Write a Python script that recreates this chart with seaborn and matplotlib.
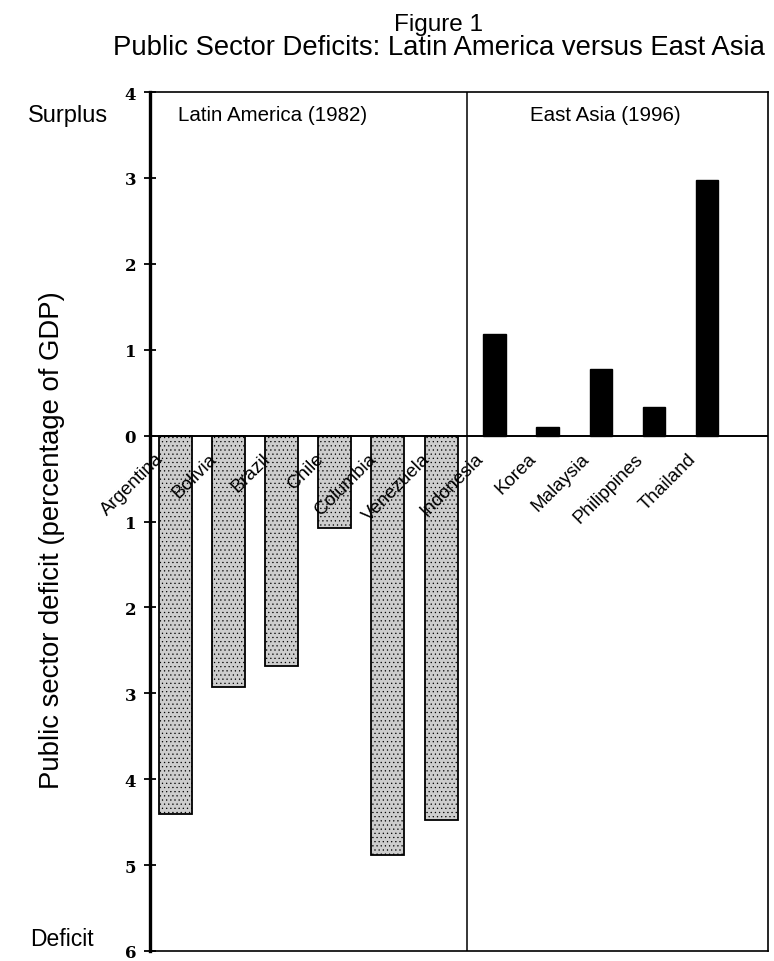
import numpy as np
import pandas as pd
import matplotlib
matplotlib.use("Agg")
import matplotlib.pyplot as plt
import matplotlib.transforms as mtransforms
import seaborn as sns

# ── Data ───────────────────────────────────────────────────────────────────────

latin_countries = ["Argentina", "Bolivia", "Brazil", "Chile", "Columbia", "Venezuela"]
latin_balance = [-4.4, -2.93, -2.68, -1.08, -4.88, -4.48]

asia_countries = ["Indonesia", "Korea", "Malaysia", "Philippines", "Thailand"]
asia_balance = [1.18, 0.1, 0.78, 0.33, 2.98]

y_ticks = [4, 3, 2, 1, 0, -1, -2, -3, -4, -5, -6]
y_tick_labels = ["4", "3", "2", "1", "0", "1", "2", "3", "4", "5", "6"]

all_countries = latin_countries + asia_countries
latin_df = pd.DataFrame({"country": latin_countries, "balance": latin_balance})
asia_df = pd.DataFrame({"country": asia_countries, "balance": asia_balance})

# ── Style ──────────────────────────────────────────────────────────────────────

sns.set_style("white")
plt.rcParams["font.family"] = ["Liberation Sans", "DejaVu Sans"]
plt.rcParams["text.color"] = "black"
plt.rcParams["ytick.color"] = "black"
plt.rcParams["ytick.labelcolor"] = "black"
plt.rcParams["hatch.linewidth"] = 0.4

fig = plt.figure(figsize=(7.74, 9.62), dpi=100)
ax = fig.add_axes([150 / 774, 1 - 952 / 962, 618 / 774, 859 / 962])

sns.barplot(data=latin_df, x="country", y="balance", order=all_countries,
            color="#cdcdcd", edgecolor="black", linewidth=1.3, width=0.62,
            hatch="....", saturation=1, errorbar=None, ax=ax)
sns.barplot(data=asia_df, x="country", y="balance", order=all_countries,
            color="black", edgecolor="black", linewidth=1.0, width=0.42,
            saturation=1, errorbar=None, ax=ax)

ax.set_xlim(-0.47, 11.14)
ax.set_ylim(-6, 4)
ax.set_xlabel("")
ax.set_ylabel("")
ax.set_xticks([])
ax.set_yticks(y_ticks)
ax.set_yticklabels(y_tick_labels, family="DejaVu Serif", fontsize=12, weight="bold")
ax.tick_params(axis="y", direction="inout", length=8, width=1.3, pad=6, left=True)

for side, spine in ax.spines.items():
    spine.set_visible(True)
    spine.set_color("black")
    spine.set_linewidth(2.4 if side == "left" else 1.2)

ax.axhline(0, color="black", lw=1.4, zorder=3)
ax.axvline(5.48, color="black", lw=1.1)

# country names, written under the zero line
offset = mtransforms.offset_copy(ax.transData, fig=fig, x=-20, y=-14, units="dots")
for i, name in enumerate(all_countries):
    ax.text(i, 0, name, transform=offset, rotation=45, rotation_mode="anchor",
            ha="right", va="top", fontsize=13.5)

ax.text(0.045, 0.974, "Latin America (1982)", transform=ax.transAxes,
        va="center", fontsize=14.8)
ax.text(0.615, 0.974, "East Asia (1996)", transform=ax.transAxes,
        va="center", fontsize=14.8)

fig.text(438 / 774, 1 - 25 / 962, "Figure 1", ha="center", va="center", fontsize=17.5)
fig.text(439 / 774, 1 - 48 / 962, "Public Sector Deficits: Latin America versus East Asia",
         ha="center", va="center", fontsize=19.8)
fig.text(28 / 774, 1 - 116 / 962, "Surplus", va="center", fontsize=17)
fig.text(30 / 774, 1 - 940 / 962, "Deficit", va="center", fontsize=16.5)
fig.text(52 / 774, 1 - 540 / 962, "Public sector deficit (percentage of GDP)",
         rotation=90, ha="center", va="center", fontsize=19.8)

plt.savefig("out.png", dpi=100)
plt.close()
